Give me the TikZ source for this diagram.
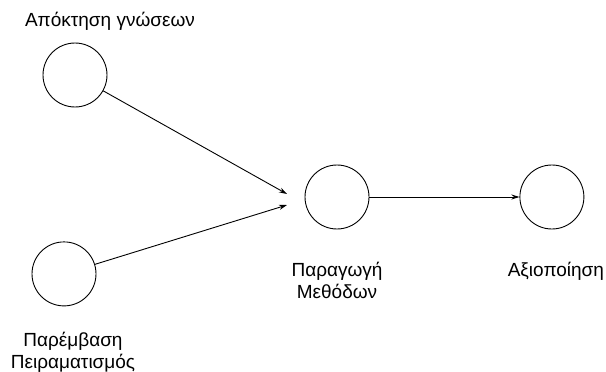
\documentclass[tikz,border=0pt]{standalone}
\usepackage{fontspec}
\setmainfont{Liberation Sans}
\usetikzlibrary{positioning,calc,arrows.meta}

\tikzset{
  place/.style={circle, draw, line width=0.9pt, minimum size=64pt, inner sep=0pt},
  lbl/.style={font=\fontsize{19}{22}\selectfont, align=center, inner sep=0pt},
  flow/.style={-{Stealth[length=8pt,width=5pt]}, line width=0.9pt},
}

\begin{document}
\begin{tikzpicture}
  \useasboundingbox (-75pt,75pt) rectangle (531pt,-297pt);

  \node[place] (a1) {};
  \node[place, below=134pt of a1, xshift=-11pt] (b1) {};
  \node[place] (c1) at ($(a1) + (262pt,-122pt)$) {};
  \node[place, right=150pt of c1] (d1) {};

  \coordinate (c1in1) at ($(c1) + (-50pt,3pt)$);
  \coordinate (c1in2) at ($(c1) + (-50pt,-8pt)$);

  \node[lbl, anchor=base] (la) at ($(a1) + (35pt,48pt)$) {Απόκτηση γνώσεων};
  \node[lbl, anchor=base] (lb) at ($(b1) + (9pt,-95pt)$) {Παρέμβαση\\Πειραματισμός};
  \node[lbl, anchor=base] (lc) at ($(c1) + (0pt,-101pt)$) {Παραγωγή\\Μεθόδων};
  \node[lbl, anchor=base] (ld) at ($(d1) + (4pt,-79pt)$) {Αξιοποίηση};

  \draw[flow] (a1) -- (c1in1);
  \draw[flow] (b1) -- (c1in2);
  \draw[flow] (c1) -- (d1);
\end{tikzpicture}
\end{document}
